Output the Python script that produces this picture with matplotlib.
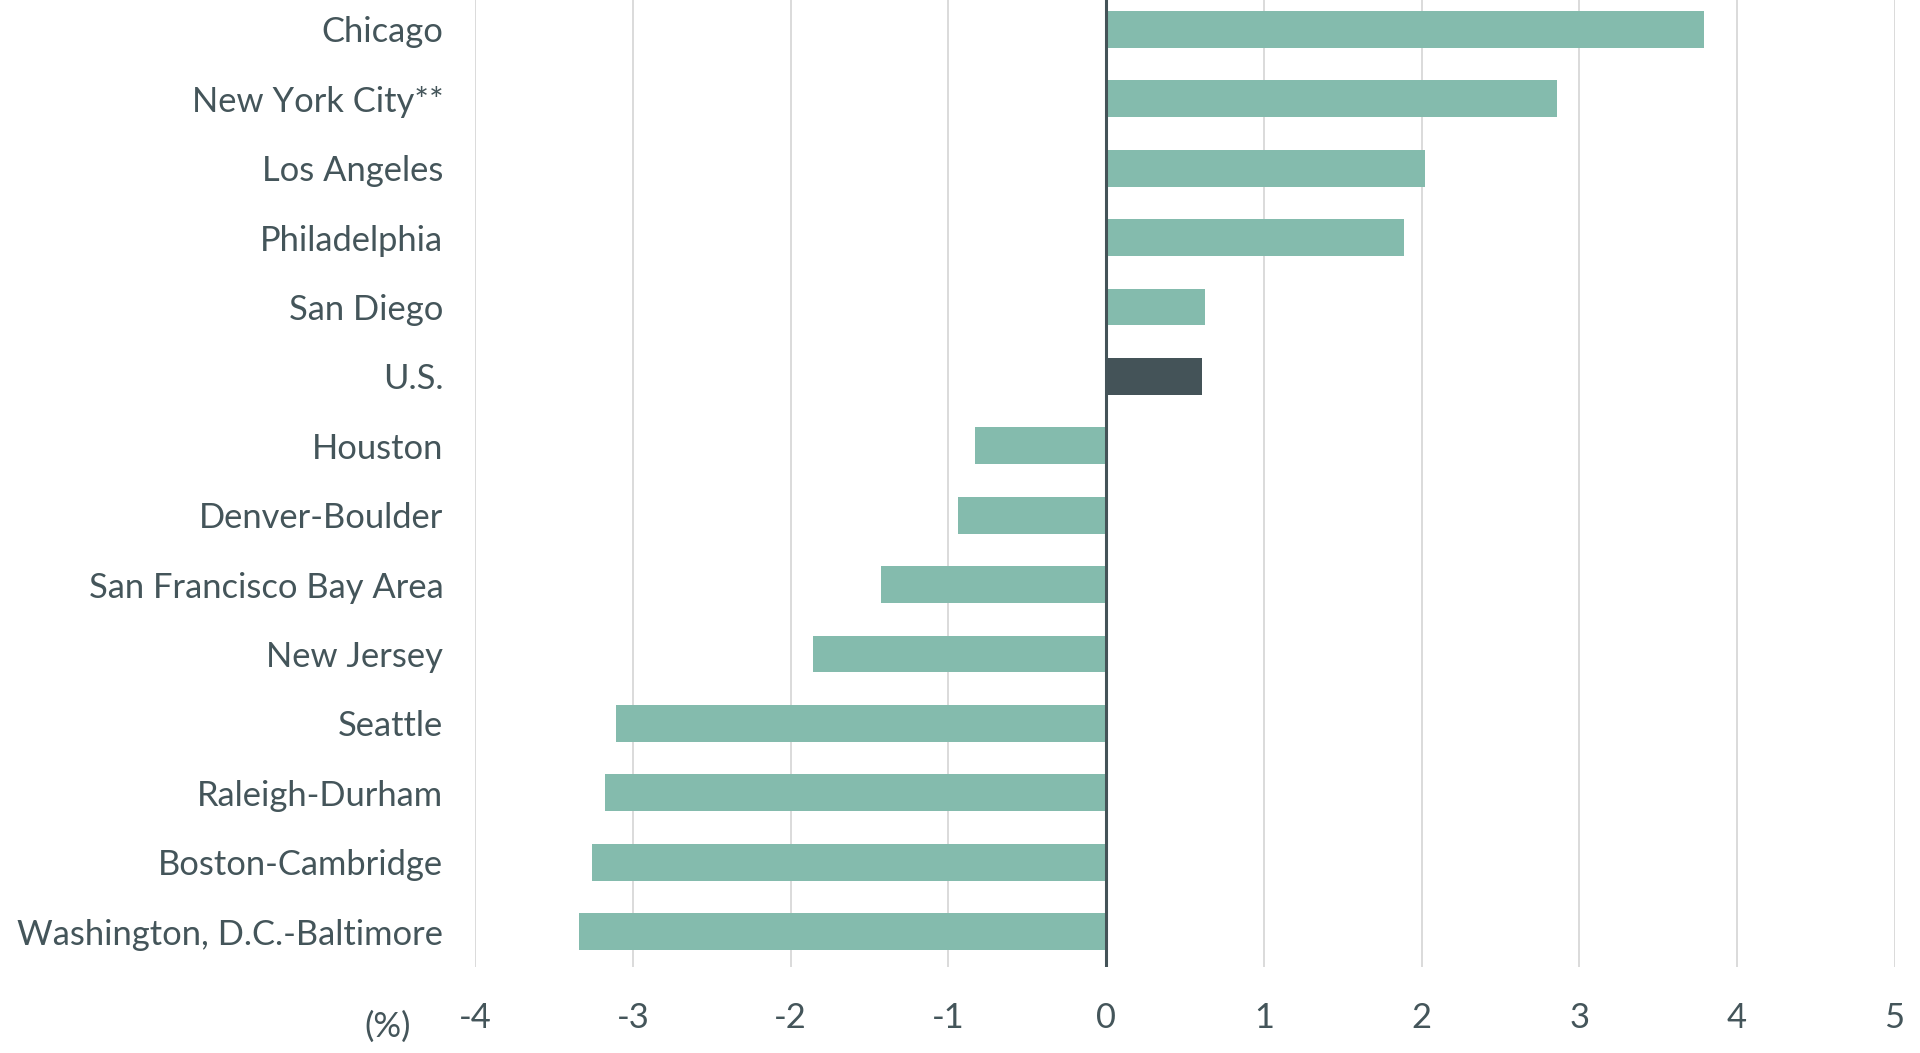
import matplotlib.pyplot as plt

cities = ["Chicago", "New York City**", "Los Angeles", "Philadelphia", "San Diego",
          "U.S.", "Houston", "Denver-Boulder", "San Francisco Bay Area", "New Jersey",
          "Seattle", "Raleigh-Durham", "Boston-Cambridge", "Washington, D.C.-Baltimore"]
values = [3.79, 2.86, 2.02, 1.89, 0.63, 0.61, -0.83, -0.94, -1.43, -1.86,
          -3.11, -3.18, -3.26, -3.34]
xticks = [-4, -3, -2, -1, 0, 1, 2, 3, 4, 5]

text_color = "#44555a"
bar_color = "#84bbad"
us_color = "#445358"

plt.rcParams['font.family'] = ['Lato', 'DejaVu Sans']

fig = plt.figure(figsize=(19.2, 10.53), dpi=100)
ax = fig.add_axes([475.3 / 1920, 1 - 967 / 1053, (1894.6 - 475.3) / 1920, 967 / 1053])

colors = [us_color if c == "U.S." else bar_color for c in cities]
ax.barh(range(len(cities)), values, height=0.53, color=colors, zorder=2)

ax.set_xlim(-4, 5)
ax.set_ylim(13.51, -0.424)
ax.set_xticks(xticks)
ax.set_xticklabels([str(t) for t in xticks])
ax.set_yticks(range(len(cities)))
ax.set_yticklabels(cities)

# vertical grid, darker zero line
for t in xticks:
    if t == 0:
        continue
    ax.axvline(t, color="#d8d8d8", lw=1.3, zorder=1)
ax.axvline(0, color=us_color, lw=2.2, zorder=3)

for s in ax.spines.values():
    s.set_visible(False)
ax.tick_params(axis="both", length=0, labelsize=24.8, colors=text_color)
ax.tick_params(axis="x", pad=25)
ax.tick_params(axis="y", pad=23)

fig.text(388 / 1920, 1 - 1027 / 1053, "(%)", fontsize=25, color=text_color,
         ha="center", va="center")

fig.savefig("out.png", dpi=100)
